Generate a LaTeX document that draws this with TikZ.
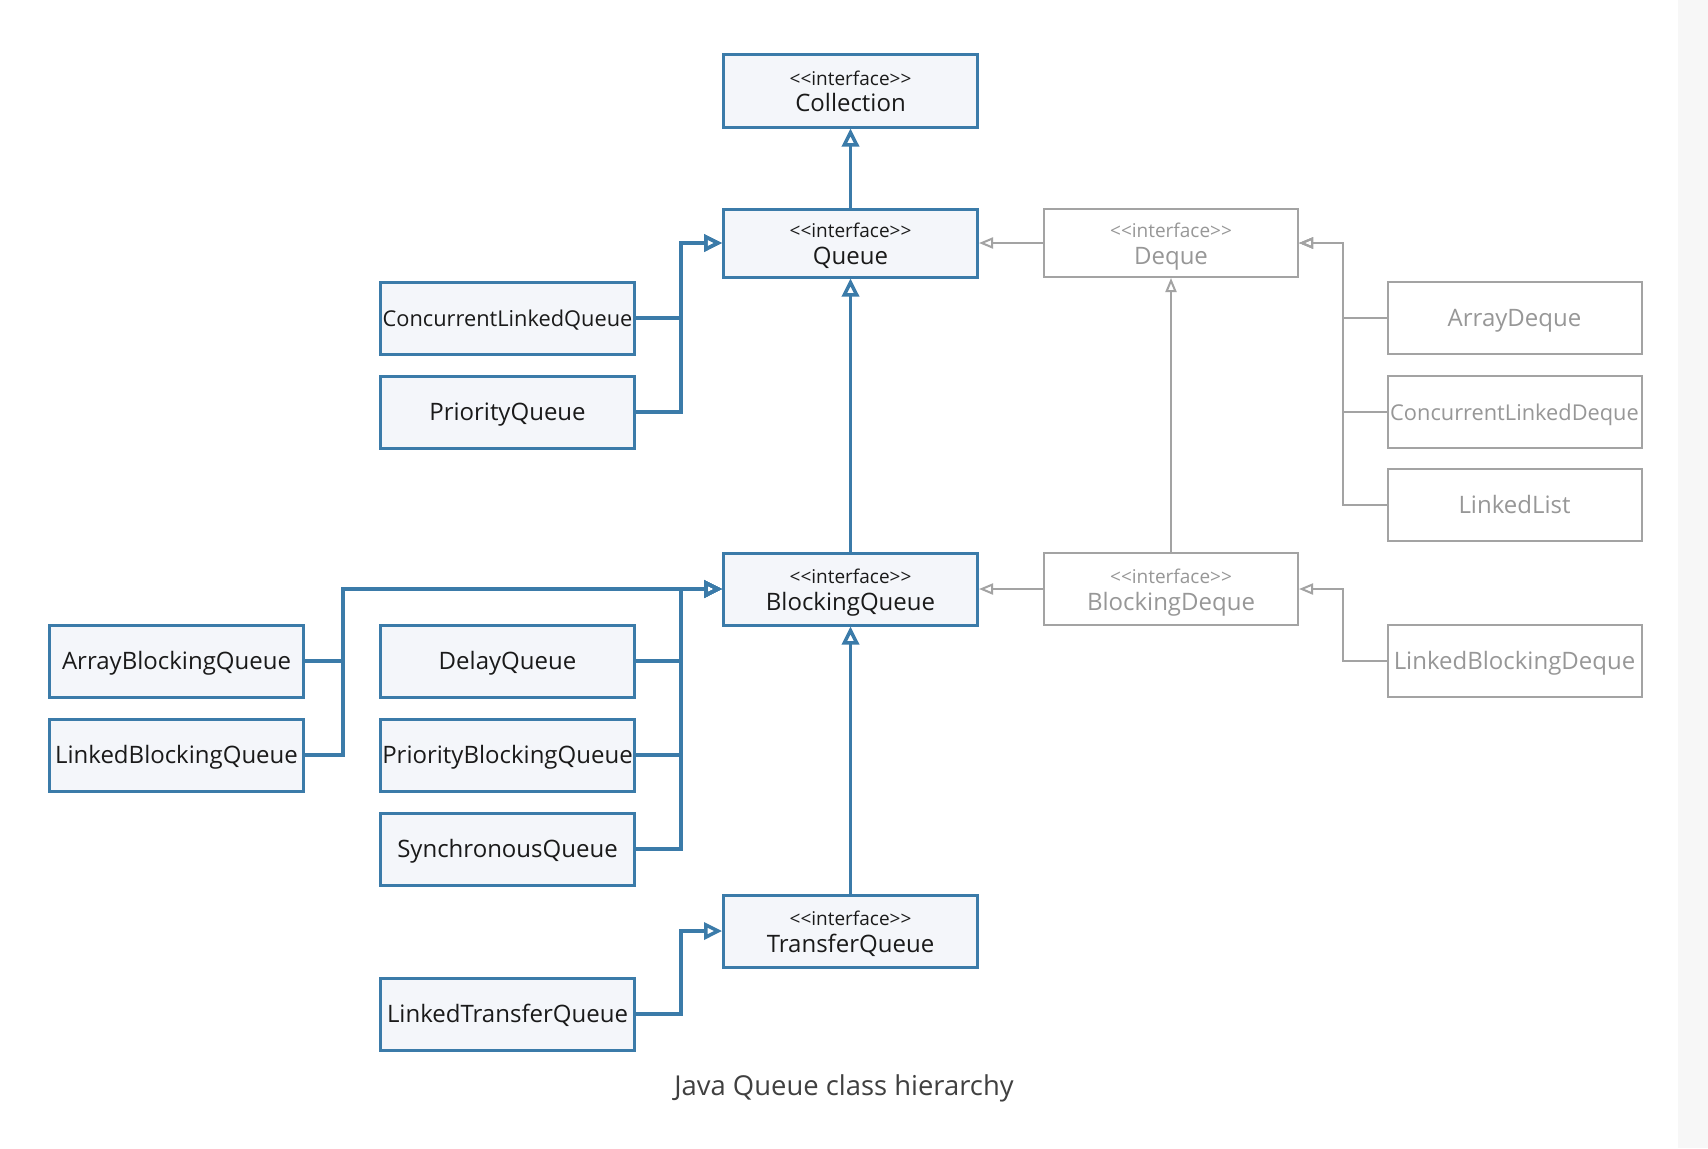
\documentclass[tikz,border=0pt]{standalone}
\usepackage{fontspec}
\setmainfont{Open Sans}[Ligatures=TeXOff]
\usetikzlibrary{arrows.meta}
\definecolor{qblue}{HTML}{3B7BA9}
\definecolor{qfill}{HTML}{F4F6FA}
\definecolor{qgray}{HTML}{A3A3A3}
\definecolor{qgtext}{HTML}{979797}
\definecolor{qtext}{HTML}{1A1A1A}
\definecolor{qcap}{HTML}{404040}
\newcommand\lbl[1]{\makebox[0pt]{#1}}
\newcommand\slbl[1]{\makebox[0pt]{\fontsize{10.9}{12}\selectfont #1}}
\newcommand\iface[1]{\makebox[0pt]{\raisebox{13.2pt}[0pt][0pt]{\fontsize{9.5}{11}\selectfont <<interface>>}}\makebox[0pt]{#1}}
\tikzset{
  boxbase/.style={minimum width=127pt, minimum height=36pt, inner sep=0pt, font=\fontsize{12}{13}\selectfont, text height=8.57pt, text depth=0pt},
  bbox/.style={boxbase, draw=qblue, fill=qfill, line width=1.5pt, text=qtext},
  gbox/.style={boxbase, draw=qgray, fill=white, line width=1pt, text=qgtext},
  ifc/.style={text height=21.2pt, text depth=0pt},
  bline/.style={draw=qblue, line width=1.75pt, -{Triangle[open,length=9pt,width=8.5pt]}},
  gline/.style={draw=qgray, line width=1pt, -{Triangle[open,length=7pt,width=5.5pt]}},
}
\begin{document}
\begin{tikzpicture}[x=0.5pt,y=-0.5pt]
\useasboundingbox (0,0) rectangle (1708,1148);
\fill[white] (0,0) rectangle (1708,1148);
\fill[black!3] (1678,0) rectangle (1708,1148);
% nodes
\node[bbox, ifc, minimum height=36.5pt] (coll) at (850.5,90.5) {\iface{Collection}};
\node[bbox, ifc, minimum height=34pt] (queue) at (850.5,243) {\iface{Queue}};
\node[gbox, ifc, minimum height=34pt] (deque) at (1171,243) {\iface{Deque}};
\node[bbox] (clq) at (507.5,318) {\slbl{ConcurrentLinkedQueue}};
\node[bbox] (pq) at (507.5,412) {\lbl{PriorityQueue}};
\node[gbox] (ad) at (1514.5,318) {\lbl{ArrayDeque}};
\node[gbox] (cld) at (1514.5,412) {\slbl{ConcurrentLinkedDeque}};
\node[gbox] (ll) at (1514.5,505) {\lbl{LinkedList}};
\node[bbox, ifc] (bq) at (850.5,589) {\iface{BlockingQueue}};
\node[gbox, ifc] (bd) at (1171,589) {\iface{BlockingDeque}};
\node[bbox] (abq) at (176.5,661) {\lbl{ArrayBlockingQueue}};
\node[bbox] (lbq) at (176.5,755) {\lbl{LinkedBlockingQueue}};
\node[bbox] (dq) at (507.5,661) {\lbl{DelayQueue}};
\node[bbox] (pbq) at (507.5,755) {\lbl{PriorityBlockingQueue}};
\node[bbox] (sq) at (507.5,849) {\lbl{SynchronousQueue}};
\node[gbox] (lbd) at (1514.5,661) {\lbl{LinkedBlockingDeque}};
\node[bbox, ifc] (tq) at (850.5,931) {\iface{TransferQueue}};
\node[bbox] (ltq) at (507.5,1014) {\lbl{LinkedTransferQueue}};
\node[text=qcap, font=\fontsize{13.7}{16}\selectfont, text height=9.8pt, text depth=0pt, inner sep=0pt] (cap) at (844,1086) {Java Queue class hierarchy};
% blue connectors
\draw[bline] (queue.north) -- (coll.south);
\draw[bline] (bq.north) -- (queue.south);
\draw[bline] (tq.north) -- (bq.south);
\draw[bline] (clq.east) -- ++(45,0) |- (queue.west);
\draw[bline] (pq.east) -- ++(45,0) |- (queue.west);
\draw[bline] (abq.east) -- ++(38,0) |- (bq.west);
\draw[bline] (lbq.east) -- ++(38,0) |- (bq.west);
\draw[bline] (dq.east) -- ++(45,0) |- (bq.west);
\draw[bline] (pbq.east) -- ++(45,0) |- (bq.west);
\draw[bline] (sq.east) -- ++(45,0) |- (bq.west);
\draw[bline] (ltq.east) -- ++(45,0) |- (tq.west);
% grey connectors
\draw[gline] (deque.west) -- (queue.east);
\draw[gline] (bd.west) -- (bq.east);
\draw[gline] (bd.north) -- (deque.south);
\draw[gline] (ad.west) -- ++(-44,0) |- (deque.east);
\draw[gline] (cld.west) -- ++(-44,0) |- (deque.east);
\draw[gline] (ll.west) -- ++(-44,0) |- (deque.east);
\draw[gline] (lbd.west) -- ++(-44,0) |- (bd.east);
\end{tikzpicture}
\end{document}
